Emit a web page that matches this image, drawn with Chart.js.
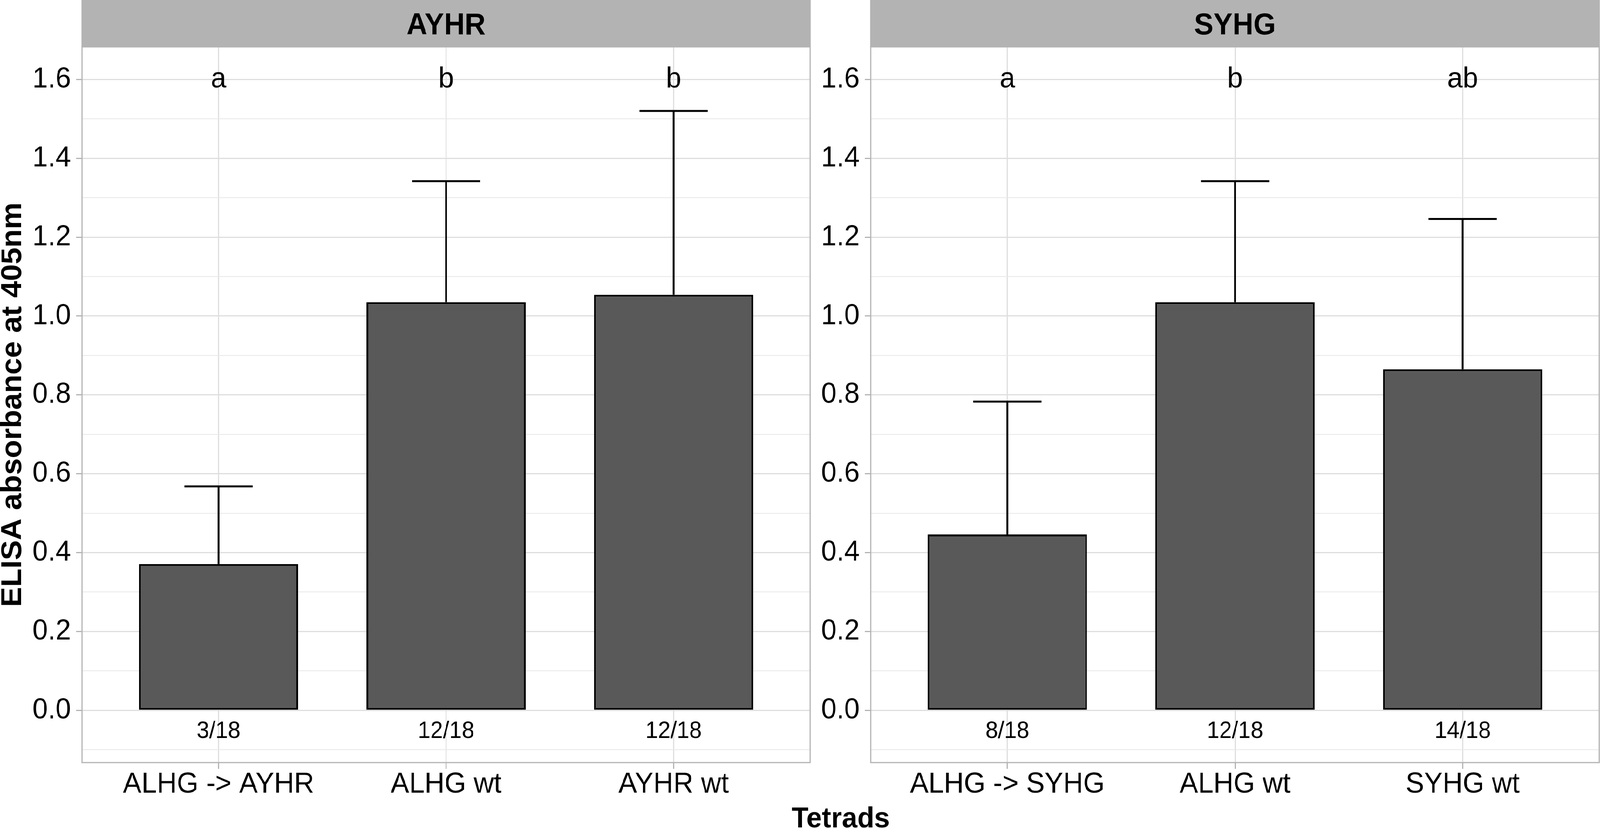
<!DOCTYPE html>
<html>
<head>
<meta charset="utf-8">
<script src="https://cdn.jsdelivr.net/npm/chart.js@4.4.1/dist/chart.umd.min.js"></script>
<style>
html,body{margin:0;padding:0;background:#fff;overflow:hidden}
#wrap{position:absolute;left:0;top:0;width:4331px;height:2122px;background:#fff;transform-origin:0 0}
canvas{position:absolute;left:0;top:0}
</style>
</head>
<body>
<div id="wrap">
<canvas id="c1" width="4331" height="2122"></canvas>
<canvas id="c2" width="4331" height="2122"></canvas>
</div>
<script>
// ---------- data ----------
const panelTitles = ['AYHR', 'SYHG'];

const ayhrCategories = ['ALHG -> AYHR', 'ALHG wt', 'AYHR wt'];
const ayhrMeans      = [0.371, 1.035, 1.054];
const ayhrErrTop     = [0.568, 1.342, 1.520];
const ayhrLetters    = ['a', 'b', 'b'];
const ayhrCounts     = ['3/18', '12/18', '12/18'];

const syhgCategories = ['ALHG -> SYHG', 'ALHG wt', 'SYHG wt'];
const syhgMeans      = [0.446, 1.035, 0.865];
const syhgErrTop     = [0.783, 1.342, 1.246];
const syhgLetters    = ['a', 'b', 'ab'];
const syhgCounts     = ['8/18', '12/18', '14/18'];

const yAxisTitle = 'ELISA absorbance at 405nm';
const xAxisTitle = 'Tetrads';

// ---------- styling / layout ----------
const FONT = '"Liberation Sans", Arial, Helvetica, sans-serif';
const LETTER_Y = 1.6;
const COUNT_Y = -0.05;
const STRIP_H = 120;
const XAXIS_H = 170;
const LEFT_PANEL_LEFT = 222, LEFT_PANEL_RIGHT = 2193;
const RIGHT_PANEL_LEFT = 2357, RIGHT_PANEL_RIGHT = 4329;
const W = 4331, H = 2122;

// fit the 4331x2122 design box to the actual viewport
(function fit() {
  const vw = window.innerWidth || W, vh = window.innerHeight || H;
  document.getElementById('wrap').style.transform = 'scale(' + (vw / W) + ',' + (vh / H) + ')';
})();

function isMajor(v) { return Math.abs(Math.round(v * 10)) % 2 === 0; }

const facetPlugin = {
  id: 'facet',
  afterDatasetsDraw(chart, args, o) {
    const ctx = chart.ctx;
    const xs = chart.scales.x, ys = chart.scales.y;
    const meta = chart.getDatasetMeta(0);
    const spacing = xs.getPixelForValue(1) - xs.getPixelForValue(0);
    const capHalf = spacing * 0.3 / 2;
    ctx.save();
    ctx.strokeStyle = '#000';
    ctx.lineWidth = 5;
    ctx.lineCap = 'butt';
    meta.data.forEach((bar, i) => {
      const x = bar.x;
      const yTop = bar.y;
      const yErr = ys.getPixelForValue(o.errTop[i]);
      ctx.beginPath();
      ctx.moveTo(x, yTop);
      ctx.lineTo(x, yErr);
      ctx.moveTo(x - capHalf, yErr);
      ctx.lineTo(x + capHalf, yErr);
      ctx.stroke();
    });
    ctx.fillStyle = '#000';
    ctx.textAlign = 'center';
    ctx.textBaseline = 'middle';
    ctx.font = '75px ' + FONT;
    meta.data.forEach((bar, i) => {
      ctx.fillText(o.letters[i], bar.x, ys.getPixelForValue(LETTER_Y));
    });
    ctx.font = '61px ' + FONT;
    meta.data.forEach((bar, i) => {
      ctx.fillText(o.counts[i], bar.x, ys.getPixelForValue(COUNT_Y) + 3);
    });
    ctx.restore();
  },
  afterDraw(chart, args, o) {
    const ctx = chart.ctx;
    const ca = chart.chartArea;
    ctx.save();
    ctx.strokeStyle = '#B3B3B3';
    ctx.lineWidth = 3;
    ctx.strokeRect(ca.left, ca.top, ca.right - ca.left, ca.bottom - ca.top);
    ctx.fillStyle = '#B3B3B3';
    ctx.fillRect(ca.left - 1.5, 0, ca.right - ca.left + 3, STRIP_H);
    ctx.fillStyle = '#000';
    ctx.font = 'bold 78px ' + FONT;
    ctx.textAlign = 'center';
    ctx.textBaseline = 'alphabetic';
    ctx.fillText(o.title, (ca.left + ca.right) / 2, 88);
    if (o.shared) {
      ctx.save();
      ctx.translate(57, (ca.top + ca.bottom) / 2);
      ctx.rotate(-Math.PI / 2);
      ctx.font = 'bold 77px ' + FONT;
      ctx.textAlign = 'center';
      ctx.textBaseline = 'alphabetic';
      ctx.fillText(yAxisTitle, 0, 0);
      ctx.restore();
      ctx.font = 'bold 75px ' + FONT;
      ctx.textAlign = 'center';
      ctx.textBaseline = 'alphabetic';
      ctx.fillText(xAxisTitle, (LEFT_PANEL_LEFT + RIGHT_PANEL_RIGHT) / 2, 2118);
    }
    ctx.restore();
  }
};

function makeChart(id, cfg) {
  return new Chart(document.getElementById(id), {
    type: 'bar',
    data: {
      labels: cfg.categories,
      datasets: [{
        data: cfg.means,
        backgroundColor: '#595959',
        borderColor: '#000000',
        borderWidth: 5,
        borderSkipped: false,
        categoryPercentage: 1,
        barPercentage: 0.7
      }]
    },
    options: {
      responsive: false,
      maintainAspectRatio: false,
      animation: false,
      devicePixelRatio: 1,
      events: [],
      layout: { padding: { left: cfg.padLeft, right: cfg.padRight, top: STRIP_H, bottom: 0 } },
      plugins: {
        legend: { display: false },
        tooltip: { enabled: false },
        title: { display: false },
        facet: { title: cfg.title, errTop: cfg.errTop, letters: cfg.letters, counts: cfg.counts, shared: cfg.shared }
      },
      scales: {
        x: {
          type: 'category',
          offset: true,
          afterBuildTicks: s => { s._startValue = -0.6; s._valueRange = 3.2; },
          afterFit: s => { s.height = XAXIS_H; },
          border: { display: false },
          grid: { offset: false, color: '#DEDEDE', lineWidth: 3, tickColor: '#B3B3B3', tickWidth: 3, tickLength: 16 },
          ticks: { color: '#000', font: { family: FONT, size: 75, lineHeight: 1 }, padding: 3, maxRotation: 0, minRotation: 0, autoSkip: false }
        },
        y: {
          type: 'linear',
          min: -0.1325,
          max: 1.6825,
          afterFit: s => { s.width = cfg.yWidth; },
          border: { display: false },
          grid: {
            color: c => (c.tick && isMajor(c.tick.value)) ? '#DEDEDE' : '#E8E8E8',
            lineWidth: c => (c.tick && isMajor(c.tick.value)) ? 3 : 2,
            tickColor: c => (c.tick && isMajor(c.tick.value)) ? '#B3B3B3' : 'rgba(0,0,0,0)',
            tickWidth: 3,
            tickLength: 16
          },
          ticks: {
            stepSize: 0.1,
            includeBounds: false,
            color: '#000',
            font: { family: FONT, size: 75, lineHeight: 1 },
            padding: 14,
            autoSkip: false,
            callback: v => isMajor(v) ? (Math.round(v * 10) / 10).toFixed(1) : ''
          }
        }
      }
    },
    plugins: [facetPlugin]
  });
}

makeChart('c1', {
  title: panelTitles[0], categories: ayhrCategories, means: ayhrMeans, errTop: ayhrErrTop,
  letters: ayhrLetters, counts: ayhrCounts, shared: true,
  padLeft: 0, yWidth: LEFT_PANEL_LEFT, padRight: W - LEFT_PANEL_RIGHT
});
makeChart('c2', {
  title: panelTitles[1], categories: syhgCategories, means: syhgMeans, errTop: syhgErrTop,
  letters: syhgLetters, counts: syhgCounts, shared: false,
  padLeft: RIGHT_PANEL_LEFT - 200, yWidth: 200, padRight: W - RIGHT_PANEL_RIGHT
});
</script>
</body>
</html>
